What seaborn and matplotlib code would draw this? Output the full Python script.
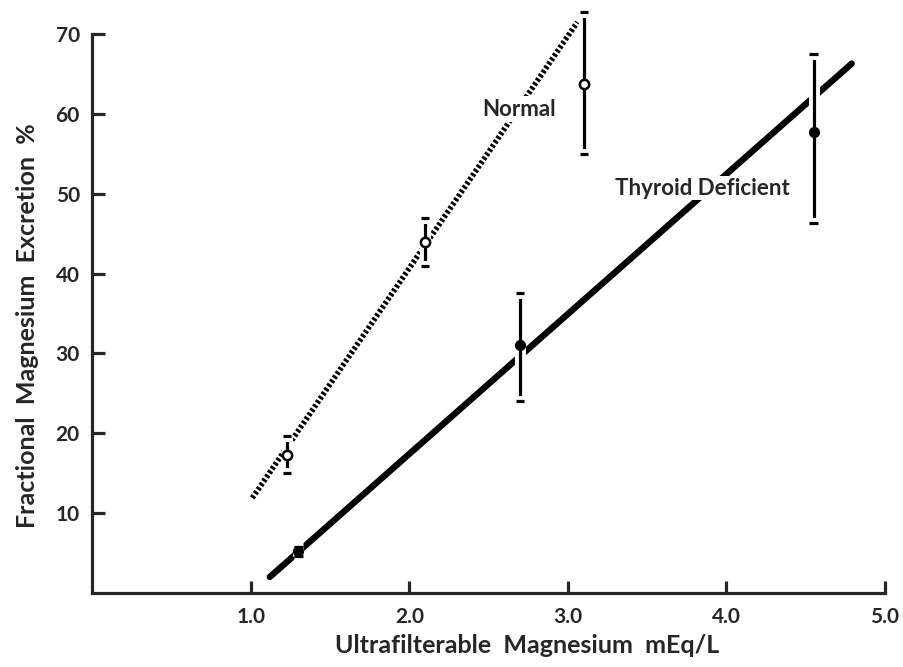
import numpy as np
import pandas as pd
import matplotlib
matplotlib.use("Agg")
import matplotlib.pyplot as plt
import matplotlib.patheffects as pe
import seaborn as sns

# measured points (mean, error bar low/high)
normal_x = [1.23, 2.10, 3.10]
normal_y = [17.3, 44.0, 63.8]
normal_lo = [15.0, 41.0, 55.0]
normal_hi = [19.7, 47.0, 72.8]

thyroid_x = [1.30, 2.70, 4.55]
thyroid_y = [5.2, 31.0, 57.7]
thyroid_lo = [4.6, 24.1, 46.3]
thyroid_hi = [5.8, 37.6, 67.5]

# regression lines (end points)
normal_line_x = [1.01, 3.06]
normal_line_y = [11.9, 71.5]
thyroid_line_x = [1.12, 4.79]
thyroid_line_y = [2.0, 66.3]

x_ticks = [1.0, 2.0, 3.0, 4.0, 5.0]
y_ticks = [10, 20, 30, 40, 50, 60, 70]

sns.set_style("ticks")
plt.rcParams["font.family"] = ["Lato", "DejaVu Sans"]
plt.rcParams["font.weight"] = "bold"

fig = plt.figure(figsize=(9.04, 6.67), dpi=100)
ax = fig.add_axes([0.102, 0.111, 0.877, 0.838])

lines = pd.DataFrame({
    "x": normal_line_x + thyroid_line_x,
    "y": normal_line_y + thyroid_line_y,
    "group": ["Normal"] * 2 + ["Thyroid"] * 2,
})
sns.lineplot(data=lines[lines.group == "Normal"], x="x", y="y", ax=ax,
             color="black", lw=4.0, linestyle=(0, (0.5, 0.4)),
             clip_on=False, zorder=2)
sns.lineplot(data=lines[lines.group == "Thyroid"], x="x", y="y", ax=ax,
             color="black", lw=4.6, clip_on=False, zorder=2)

white = [pe.Stroke(linewidth=8, foreground="white"), pe.Normal()]

# error bars
for xs, ys, lo, hi in [(normal_x, normal_y, normal_lo, normal_hi),
                       (thyroid_x, thyroid_y, thyroid_lo, thyroid_hi)]:
    yerr = [np.array(ys) - np.array(lo), np.array(hi) - np.array(ys)]
    eb = ax.errorbar(xs, ys, yerr=yerr, fmt="none", ecolor="black",
                     elinewidth=2.3, capsize=3, capthick=2.3, zorder=3)
    for art in list(eb.lines[2]) + list(eb.lines[1]):
        art.set_path_effects(white)
        art.set_clip_on(False)

pts = pd.DataFrame({
    "x": normal_x + thyroid_x,
    "y": normal_y + thyroid_y,
    "group": ["Normal"] * 3 + ["Thyroid"] * 3,
})
sns.scatterplot(data=pts[pts.group == "Normal"], x="x", y="y", ax=ax,
                marker="o", s=45, facecolor="white", edgecolor="black",
                linewidth=1.8, zorder=4)
sns.scatterplot(data=pts[pts.group == "Thyroid"], x="x", y="y", ax=ax,
                marker="o", s=50, color="black", edgecolor="black",
                linewidth=1, zorder=4)

ax.text(2.69, 60.6, "Normal", fontsize=16, fontweight="bold",
        ha="center", va="center", zorder=5,
        bbox=dict(facecolor="white", edgecolor="none", pad=2))
ax.text(3.85, 50.7, "Thyroid Deficient", fontsize=16, fontweight="bold",
        ha="center", va="center", zorder=5,
        bbox=dict(facecolor="white", edgecolor="none", pad=1))

ax.set_xlim(0, 5)
ax.set_ylim(0, 70)
ax.set_xticks(x_ticks)
ax.set_xticklabels([f"{t:.1f}" for t in x_ticks])
ax.set_yticks(y_ticks)
ax.set_yticklabels([str(t) for t in y_ticks])
ax.tick_params(direction="in", length=9, width=2.3, labelsize=15)
ax.tick_params(axis="x", pad=10)
ax.tick_params(axis="y", pad=9)
for s in ["left", "bottom"]:
    ax.spines[s].set_linewidth(2.3)
sns.despine(ax=ax)

ax.set_xlabel("Ultrafilterable  Magnesium  mEq/L", fontsize=18,
              fontweight="bold", labelpad=5)
ax.set_ylabel("Fractional  Magnesium  Excretion  %", fontsize=18,
              fontweight="bold", labelpad=12)
ax.xaxis.label.set_x(0.549)
ax.yaxis.label.set_y(0.478)

fig.savefig("out.png", dpi=100)
